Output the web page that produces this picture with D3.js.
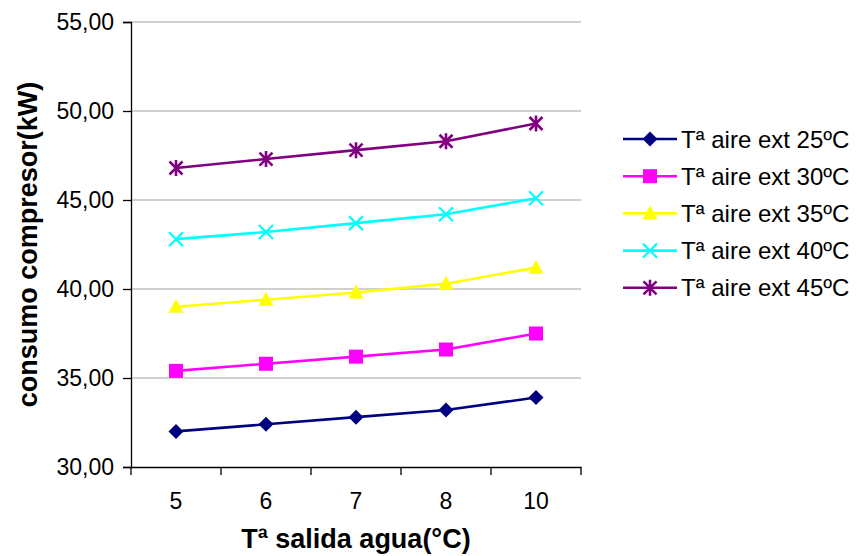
<!DOCTYPE html>
<html>
<head>
<meta charset="utf-8">
<script src="https://cdn.jsdelivr.net/npm/d3@7"></script>
<style>
  html, body { margin: 0; padding: 0; background: #fff; }
  svg { display: block; font-family: "Liberation Sans", Arial, sans-serif; }
</style>
</head>
<body>
<svg id="chart" width="857" height="556"></svg>
<script>
const categories = ["5", "6", "7", "8", "10"];
const seriesNames = ["Tª aire ext 25ºC", "Tª aire ext 30ºC", "Tª aire ext 35ºC", "Tª aire ext 40ºC", "Tª aire ext 45ºC"];
const s25 = [32.0, 32.4, 32.8, 33.2, 33.9];
const s30 = [35.4, 35.8, 36.2, 36.6, 37.5];
const s35 = [39.0, 39.4, 39.8, 40.3, 41.2];
const s40 = [42.8, 43.2, 43.7, 44.2, 45.1];
const s45 = [46.8, 47.3, 47.8, 48.3, 49.3];
const yTicks = [30, 35, 40, 45, 50, 55];
const xTitle = "Tª salida agua(°C)";
const yTitle = "consumo compresor(kW)";

const seriesValues = [s25, s30, s35, s40, s45];
const colors = ["#000080", "#FF00FF", "#FFFF00", "#00FFFF", "#800080"];
const markers = ["diamond", "square", "triangle", "x", "star"];

const svg = d3.select("#chart");
const pLeft = 131, pRight = 581, pTop = 22, pBottom = 467;

const x = d3.scaleBand().domain(categories).range([pLeft, pRight]);
const y = d3.scaleLinear().domain([30, 55]).range([pBottom, pTop]);
const cx = c => x(c) + x.bandwidth() / 2;

// gridlines
svg.append("g").selectAll("line").data(yTicks.filter(t => t !== 30)).join("line")
  .attr("x1", pLeft).attr("x2", pRight)
  .attr("y1", d => y(d)).attr("y2", d => y(d))
  .attr("stroke", "#c0c0c0").attr("stroke-width", 1.3);

// y axis
const yAxis = d3.axisLeft(y).tickValues(yTicks).tickSize(8).tickPadding(9)
  .tickFormat(d => d3.format(".2f")(d).replace(".", ","));
const gy = svg.append("g").attr("transform", `translate(${pLeft},0)`).call(yAxis);
gy.select(".domain").attr("stroke", "#000").attr("stroke-width", 1.3);
gy.selectAll(".tick line").attr("stroke", "#000").attr("stroke-width", 1.3);
gy.selectAll(".tick text").attr("font-size", 23).attr("fill", "#000")
  .attr("font-family", "Liberation Sans, Arial, sans-serif");

// x axis
const xAxis = d3.axisBottom(x).tickSize(0).tickPadding(26);
const gx = svg.append("g").attr("transform", `translate(0,${pBottom})`).call(xAxis);
gx.select(".domain").attr("stroke", "#000").attr("stroke-width", 1.3);
gx.selectAll(".tick text").attr("font-size", 23).attr("fill", "#000")
  .attr("font-family", "Liberation Sans, Arial, sans-serif");
const edges = categories.map(c => x(c)).concat([x.range()[1]]);
gx.append("g").selectAll("line").data(edges).join("line")
  .attr("x1", d => d).attr("x2", d => d).attr("y1", 0).attr("y2", 8)
  .attr("stroke", "#000").attr("stroke-width", 1.3);

// titles
svg.append("text").attr("x", (pLeft + pRight) / 2).attr("y", 548)
  .attr("text-anchor", "middle").attr("font-size", 27).attr("font-weight", "bold")
  .text(xTitle);
svg.append("text").attr("transform", `translate(37,${(pTop + pBottom) / 2}) rotate(-90)`)
  .attr("text-anchor", "middle").attr("font-size", 27).attr("font-weight", "bold")
  .text(yTitle);

function drawMarker(g, type, color) {
  if (type === "diamond") {
    g.append("path").attr("d", "M0,-7.5L7.5,0L0,7.5L-7.5,0Z").attr("fill", color);
  } else if (type === "square") {
    g.append("rect").attr("x", -7).attr("y", -7).attr("width", 14).attr("height", 14).attr("fill", color);
  } else if (type === "triangle") {
    g.append("path").attr("d", "M0,-8L7.5,6L-7.5,6Z").attr("fill", color);
  } else if (type === "x") {
    g.append("path").attr("d", "M-7,-7L7,7M-7,7L7,-7").attr("stroke", color).attr("stroke-width", 2.2).attr("fill", "none");
  } else if (type === "star") {
    g.append("path").attr("d", "M-6.5,-6.5L6.5,6.5M-6.5,6.5L6.5,-6.5M0,-8L0,8")
      .attr("stroke", color).attr("stroke-width", 2.6).attr("fill", "none");
  }
}

const line = d3.line().x((d, i) => cx(categories[i])).y(d => y(d));

seriesValues.forEach((vals, si) => {
  svg.append("path").datum(vals).attr("d", line)
    .attr("fill", "none").attr("stroke", colors[si]).attr("stroke-width", 2.6);
  vals.forEach((v, i) => {
    const g = svg.append("g").attr("transform", `translate(${cx(categories[i])},${y(v)})`);
    drawMarker(g, markers[si], colors[si]);
  });
});

// legend
const legend = svg.append("g");
seriesNames.forEach((name, si) => {
  const ly = 139 + si * 37.2;
  legend.append("line").attr("x1", 623).attr("x2", 677).attr("y1", ly).attr("y2", ly)
    .attr("stroke", colors[si]).attr("stroke-width", 2.6);
  const g = legend.append("g").attr("transform", `translate(650,${ly})`);
  drawMarker(g, markers[si], colors[si]);
  legend.append("text").attr("x", 681).attr("y", ly + 8.5).attr("font-size", 24)
    .attr("fill", "#000").text(name);
});
</script>
</body>
</html>
